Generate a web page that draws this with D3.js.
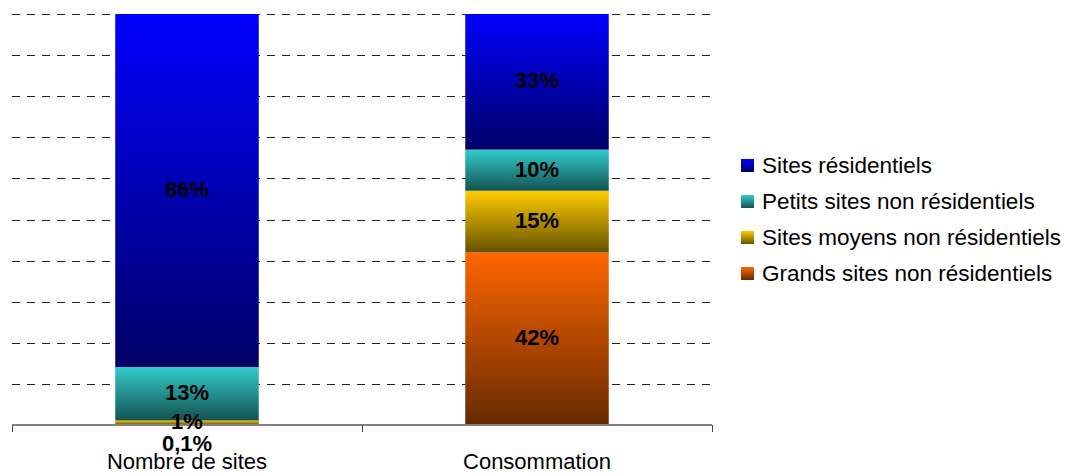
<!DOCTYPE html>
<html>
<head>
<meta charset="utf-8">
<script src="https://cdn.jsdelivr.net/npm/d3@7/dist/d3.min.js"></script>
<style>
  body { margin: 0; background: #fff; }
  text { font-family: "Liberation Sans", Arial, sans-serif; }
</style>
</head>
<body>
<svg id="chart" width="1072" height="476"></svg>
<script>
// categories (x axis)
const categories = ["Nombre de sites", "Consommation"];
// series, bottom to top of the stack
const seriesNames = ["Grands sites non résidentiels", "Sites moyens non résidentiels",
                     "Petits sites non résidentiels", "Sites résidentiels"];
const grands   = [0.1, 42];
const moyens   = [1, 15];
const petits   = [13, 10];
const resident = [86, 33];
const valueLabels = [["0,1%", "42%"], ["1%", "15%"], ["13%", "10%"], ["86%", "33%"]];
const gridTicks = [0, 10, 20, 30, 40, 50, 60, 70, 80, 90, 100];

// gradient colours: top (light) -> bottom (dark)
const topColors = ["#ff6600", "#ffcc00", "#33cccc", "#0000ff"];
const bottomColors = ["#662900", "#665200", "#145252", "#000066"];

const width = 1072, height = 476;
const margin = {top: 14, bottom: 51, left: 12, right: 360};
const innerWidth = width - margin.left - margin.right;
const innerHeight = height - margin.top - margin.bottom;

const svg = d3.select("#chart");
const defs = svg.append("defs");
seriesNames.forEach((s, i) => {
  const g = defs.append("linearGradient")
    .attr("id", "grad" + i)
    .attr("x1", 0).attr("y1", 0).attr("x2", 0).attr("y2", 1);
  g.append("stop").attr("offset", "0%").attr("stop-color", topColors[i]);
  g.append("stop").attr("offset", "100%").attr("stop-color", bottomColors[i]);
});

const x = d3.scaleBand()
  .domain(categories)
  .range([0, innerWidth])
  .paddingInner(0)
  .paddingOuter(0);

const y = d3.scaleLinear()
  .domain([0, 100])
  .range([innerHeight, 0]);

const plot = svg.append("g")
  .attr("transform", `translate(${margin.left}, ${margin.top})`);

// dashed grid lines
plot.append("g")
  .selectAll("line")
  .data(gridTicks.slice(1))
  .enter()
  .append("line")
  .attr("x1", 0)
  .attr("x2", innerWidth)
  .attr("y1", d => Math.round(y(d)) + 0.5)
  .attr("y2", d => Math.round(y(d)) + 0.5)
  .style("stroke", "#222")
  .style("stroke-width", 1)
  .style("stroke-dasharray", "8,7");

// stacked bars
const table = categories.map((c, j) => ({
  cat: c,
  [seriesNames[0]]: grands[j],
  [seriesNames[1]]: moyens[j],
  [seriesNames[2]]: petits[j],
  [seriesNames[3]]: resident[j]
}));
const stacked = d3.stack().keys(seriesNames)(table);

const barWidth = x.bandwidth() * 0.41;

const layers = plot.append("g")
  .selectAll("g")
  .data(stacked)
  .enter()
  .append("g")
  .style("fill", (d, i) => `url(#grad${i})`);

layers.selectAll("rect")
  .data(d => d)
  .enter()
  .append("rect")
  .attr("x", d => x(d.data.cat) + (x.bandwidth() - barWidth) / 2)
  .attr("y", d => y(Math.min(d[1], 100)))
  .attr("width", barWidth)
  .attr("height", d => y(d[0]) - y(Math.min(d[1], 100)));

// x axis
const xAxis = d3.axisBottom(x).tickSize(0).tickFormat("");
const axisG = plot.append("g")
  .attr("transform", `translate(0, ${innerHeight})`)
  .call(xAxis);
axisG.select(".domain").remove();
axisG.selectAll(".tick").remove();
axisG.append("line")
  .attr("x1", 0).attr("x2", innerWidth)
  .attr("y1", 0).attr("y2", 0)
  .style("stroke", "#808080").style("stroke-width", 2);
axisG.selectAll(".sep")
  .data([0, ...categories.map(c => x(c) + x.bandwidth())])
  .enter()
  .append("line")
  .attr("x1", d => d + 0.5).attr("x2", d => d + 0.5)
  .attr("y1", 0).attr("y2", 7)
  .style("stroke", "#444").style("stroke-width", 1);
axisG.selectAll(".cat")
  .data(categories)
  .enter()
  .append("text")
  .attr("x", d => x(d) + x.bandwidth() / 2)
  .attr("y", 44)
  .attr("text-anchor", "middle")
  .style("font-size", "22px")
  .style("fill", "#000")
  .text(d => d);

// data labels (the 0,1% label is pushed below the 1% one, as in the original)
const labelShift = [[20, 0], [0, 0], [0, 0], [0, 0]];
stacked.forEach((layer, i) => {
  plot.append("g")
    .selectAll("text")
    .data(layer)
    .enter()
    .append("text")
    .attr("x", d => x(d.data.cat) + x.bandwidth() / 2)
    .attr("y", (d, j) => (y(d[0]) + y(Math.min(d[1], 100))) / 2 + labelShift[i][j])
    .attr("dy", "0.3em")
    .attr("text-anchor", "middle")
    .style("font-size", "22px")
    .style("font-weight", "bold")
    .style("fill", "#000")
    .text((d, j) => valueLabels[i][j]);
});

// legend
const legendOrder = d3.range(seriesNames.length).reverse();
const legend = svg.append("g")
  .attr("transform", "translate(741, 165)");
const items = legend.selectAll("g")
  .data(legendOrder)
  .enter()
  .append("g")
  .attr("transform", (d, k) => `translate(0, ${k * 36})`);
items.append("rect")
  .attr("x", 0).attr("y", -6)
  .attr("width", 13).attr("height", 13)
  .style("fill", d => `url(#grad${d})`);
items.append("text")
  .attr("x", 21)
  .attr("y", 0)
  .attr("dy", "0.36em")
  .style("font-size", "22.5px")
  .style("fill", "#000")
  .text(d => seriesNames[d]);
</script>
</body>
</html>
